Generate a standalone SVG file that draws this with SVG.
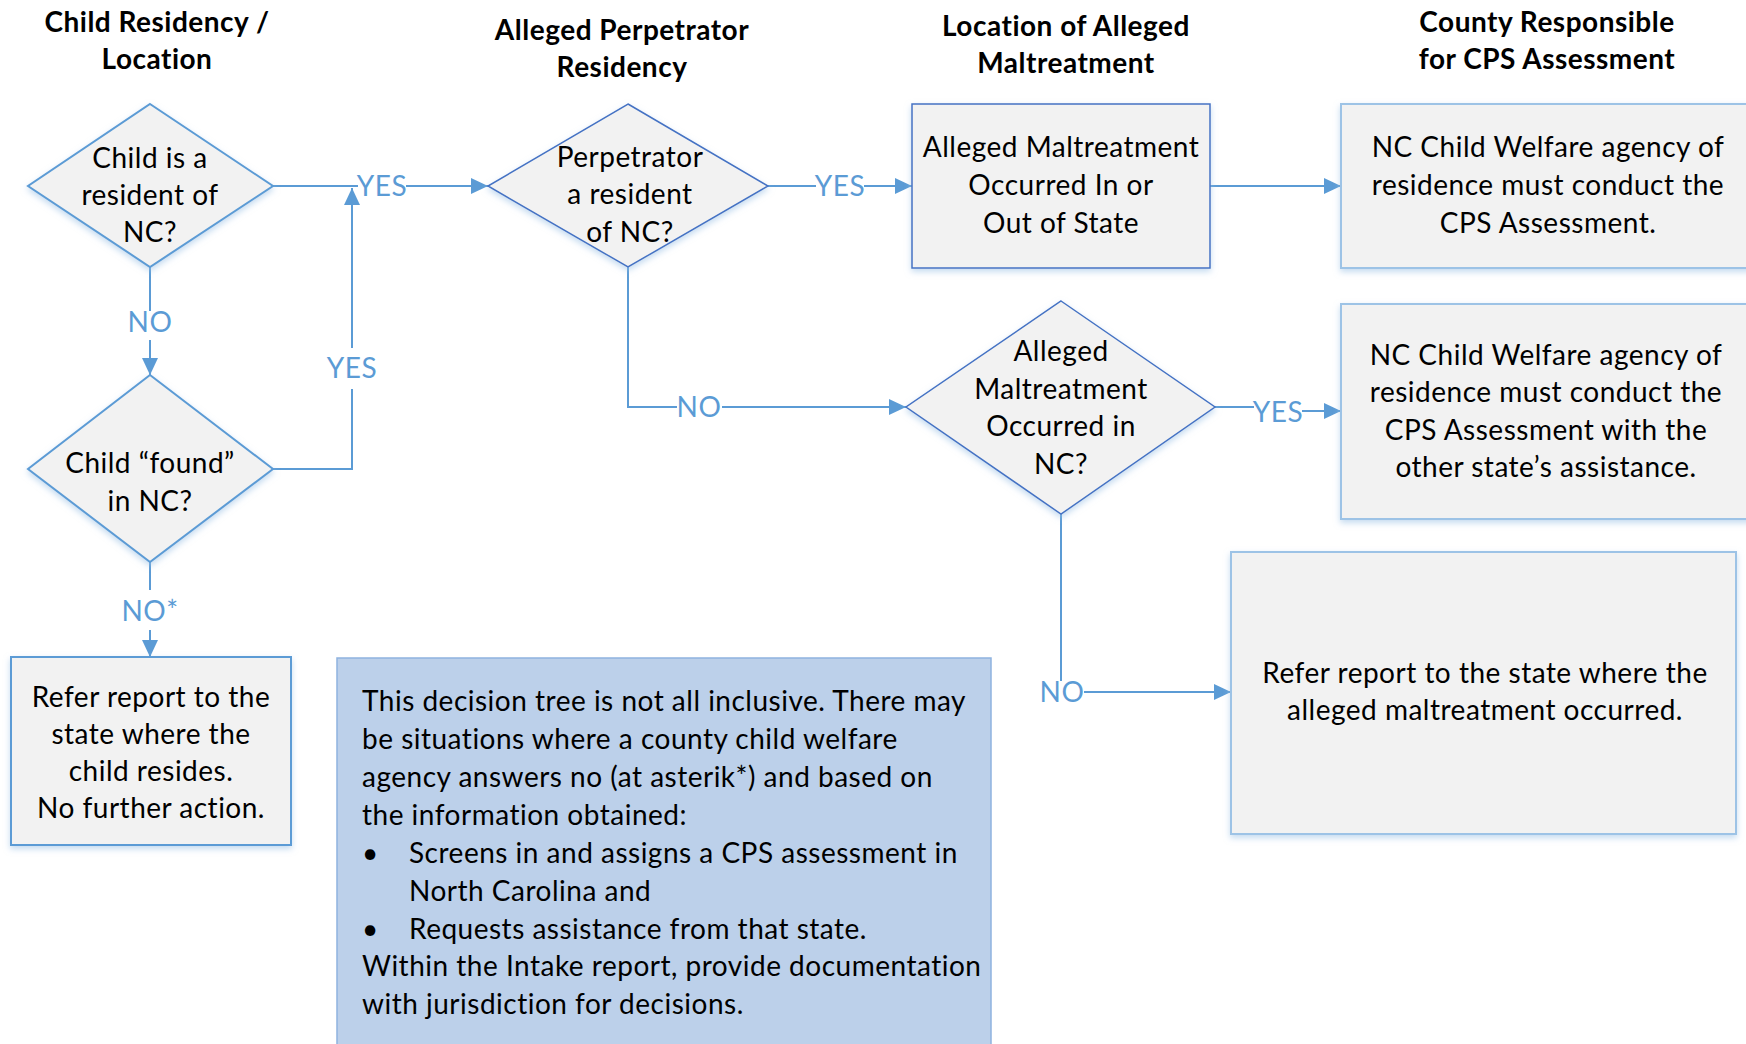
<svg xmlns="http://www.w3.org/2000/svg" width="1746" height="1044" viewBox="0 0 1746 1044">
<defs>
<marker id="arr" markerUnits="userSpaceOnUse" markerWidth="18" markerHeight="16" refX="17" refY="8" orient="auto">
<path d="M0,0 L17,8 L0,16 z" fill="#5B9BD5"/>
</marker>
<filter id="sh" x="-5%" y="-5%" width="110%" height="115%">
<feDropShadow dx="0" dy="3" stdDeviation="3" flood-color="#9DC3E6" flood-opacity="0.6"/>
</filter>
</defs>
<style>
.t{font-family:Lato,"Open Sans","Liberation Sans",sans-serif;font-size:28px;letter-spacing:0.5px;fill:#000;text-anchor:middle}
.h{font-family:Lato,"Open Sans","Liberation Sans",sans-serif;font-size:28px;letter-spacing:0.5px;font-weight:bold;fill:#000;text-anchor:middle}
.n{font-family:Lato,"Open Sans","Liberation Sans",sans-serif;font-size:28px;letter-spacing:0.5px;fill:#000}
.l{font-family:Lato,"Open Sans","Liberation Sans",sans-serif;font-size:28px;letter-spacing:0.5px;fill:#5B9BD5;text-anchor:middle}
.c{fill:none;stroke:#5B9BD5;stroke-width:2}
.a{fill:#F2F2F2;stroke:#5B9BD5;stroke-width:2;filter:url(#sh)}
.b{fill:#F2F2F2;stroke:#4472C4;stroke-width:1.5;filter:url(#sh)}
.d{fill:#F2F2F2;stroke:#9DC3E6;stroke-width:2;filter:url(#sh)}
</style>
<rect width="1746" height="1044" fill="#fff"/>

<g id="titles">
<text class="h" x="157" y="32">Child Residency /</text>
<text class="h" x="157" y="69">Location</text>
<text class="h" x="622" y="40">Alleged Perpetrator</text>
<text class="h" x="622" y="77">Residency</text>
<text class="h" x="1066" y="36">Location of Alleged</text>
<text class="h" x="1066" y="73">Maltreatment</text>
<text class="h" x="1547" y="32">County Responsible</text>
<text class="h" x="1547" y="69">for CPS Assessment</text>
</g>

<g id="connectors">
<path class="c" d="M273 186 H358"/>
<path class="c" d="M406 186 H488" marker-end="url(#arr)"/>
<path class="c" d="M273 469 H352 V389"/>
<path class="c" d="M352 348 V188" marker-end="url(#arr)"/>
<path class="c" d="M150 267 V311"/>
<path class="c" d="M150 340 V375" marker-end="url(#arr)"/>
<path class="c" d="M150 562 V590"/>
<path class="c" d="M150 630 V657" marker-end="url(#arr)"/>
<path class="c" d="M768 186 H816"/>
<path class="c" d="M864 186 H912" marker-end="url(#arr)"/>
<path class="c" d="M1210 186 H1341" marker-end="url(#arr)"/>
<path class="c" d="M628 267 V407 H677"/>
<path class="c" d="M722 407 H906" marker-end="url(#arr)"/>
<path class="c" d="M1215 407 H1254"/>
<path class="c" d="M1302 411 H1341" marker-end="url(#arr)"/>
<path class="c" d="M1061 514 V681"/>
<path class="c" d="M1084 692 H1231" marker-end="url(#arr)"/>
<text class="l" x="382" y="196">YES</text>
<text class="l" x="352" y="378">YES</text>
<text class="l" x="150" y="332">NO</text>
<text class="l" x="150" y="621">NO*</text>
<text class="l" x="840" y="196">YES</text>
<text class="l" x="699" y="417">NO</text>
<text class="l" x="1278" y="422">YES</text>
<text class="l" x="1062" y="702">NO</text>
</g>

<g id="d1">
<polygon class="a" points="150,104 273,186 150,267 28,186"/>
<text class="t" x="150" y="168">Child is a</text>
<text class="t" x="150" y="205">resident of</text>
<text class="t" x="150" y="242">NC?</text>
</g>

<g id="d3">
<polygon class="a" points="150,375 273,469 150,562 28,469"/>
<text class="t" x="150" y="473">Child “found”</text>
<text class="t" x="150" y="511">in NC?</text>
</g>

<g id="refer-child">
<rect class="a" x="11" y="657" width="280" height="188"/>
<text class="t" x="151" y="707">Refer report to the</text>
<text class="t" x="151" y="744">state where the</text>
<text class="t" x="151" y="781">child resides.</text>
<text class="t" x="151" y="818">No further action.</text>
</g>

<g id="d2">
<polygon class="b" points="628,104 768,186 628,267 488,186"/>
<text class="t" x="630" y="167">Perpetrator</text>
<text class="t" x="630" y="204">a resident</text>
<text class="t" x="630" y="242">of NC?</text>
</g>

<g id="box1">
<rect class="b" x="912" y="104" width="298" height="164"/>
<text class="t" x="1061" y="157">Alleged Maltreatment</text>
<text class="t" x="1061" y="195">Occurred In or</text>
<text class="t" x="1061" y="233">Out of State</text>
</g>

<g id="box2">
<rect class="d" x="1341" y="104" width="420" height="164"/>
<text class="t" x="1548" y="157">NC Child Welfare agency of</text>
<text class="t" x="1548" y="195">residence must conduct the</text>
<text class="t" x="1548" y="233">CPS Assessment.</text>
</g>

<g id="d4">
<polygon class="b" points="1061,301 1215,407 1061,514 906,407"/>
<text class="t" x="1061" y="361">Alleged</text>
<text class="t" x="1061" y="399">Maltreatment</text>
<text class="t" x="1061" y="436">Occurred in</text>
<text class="t" x="1061" y="474">NC?</text>
</g>

<g id="box3">
<rect class="d" x="1341" y="304" width="420" height="215"/>
<text class="t" x="1546" y="365">NC Child Welfare agency of</text>
<text class="t" x="1546" y="402">residence must conduct the</text>
<text class="t" x="1546" y="440">CPS Assessment with the</text>
<text class="t" x="1546" y="477">other state’s assistance.</text>
</g>

<g id="box4">
<rect class="d" x="1231" y="552" width="505" height="282"/>
<text class="t" x="1485" y="683">Refer report to the state where the</text>
<text class="t" x="1485" y="720">alleged maltreatment occurred.</text>
</g>

<g id="note">
<rect x="337" y="658" width="654" height="400" fill="#BCD0EA" stroke="#8FB3DF" stroke-width="1.5"/>
<text class="n" x="362" y="711">This decision tree is not all inclusive. There may</text>
<text class="n" x="362" y="749">be situations where a county child welfare</text>
<text class="n" x="362" y="787">agency answers no (at asterik*) and based on</text>
<text class="n" x="362" y="825">the information obtained:</text>
<text class="n" x="362" y="863">•</text>
<text class="n" x="409" y="863">Screens in and assigns a CPS assessment in</text>
<text class="n" x="409" y="901">North Carolina and</text>
<text class="n" x="362" y="939">•</text>
<text class="n" x="409" y="939">Requests assistance from that state.</text>
<text class="n" x="362" y="976">Within the Intake report, provide documentation</text>
<text class="n" x="362" y="1014">with jurisdiction for decisions.</text>
</g>
</svg>
